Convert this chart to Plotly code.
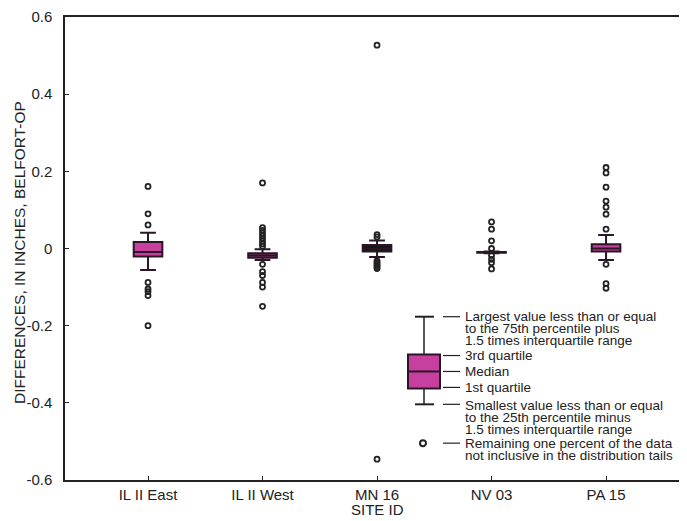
import plotly.graph_objects as go

# ---- data ----
sites = ["IL II East", "IL II West", "MN 16", "NV 03", "PA 15"]
q1 = [-0.021, -0.024, -0.008, -0.011, -0.008]
median = [-0.009, -0.018, 0.000, -0.010, 0.000]
q3 = [0.017, -0.012, 0.009, -0.009, 0.011]
lowerfence = [-0.056, -0.030, -0.022, -0.012, -0.030]
upperfence = [0.041, -0.002, 0.021, -0.008, 0.035]

outliers_il_east = [0.161, 0.090, 0.061, -0.088, -0.105, -0.112, -0.122, -0.200]
outliers_il_west = [0.170, 0.054, 0.047, 0.040, 0.033, 0.026, 0.019, 0.012, 0.006,
                    -0.041, -0.060, -0.070, -0.088, -0.100, -0.150]
outliers_mn16 = [0.527, 0.036, 0.030, -0.032, -0.036, -0.040, -0.044, -0.048, -0.052, -0.546]
outliers_nv03 = [0.069, 0.050, 0.020, 0.000, -0.018, -0.028, -0.037, -0.053]
outliers_pa15 = [0.210, 0.196, 0.159, 0.123, 0.107, 0.089, 0.050, -0.041, -0.091, -0.103]
outliers = [outliers_il_east, outliers_il_west, outliers_mn16, outliers_nv03, outliers_pa15]

fills = ["#C8409F", "#C8409F", "#151515", "#C8409F", "#C8409F"]

# page is offset by the 8px default body margin
OFF = 8
W, H = 687 - OFF, 521 - OFF
PLOT_L, PLOT_R, PLOT_T, PLOT_B = 65, 687, 15, 480   # page pixels of plot area
L = PLOT_L - OFF
T = PLOT_T - OFF
R = 0
B = H - (PLOT_B - OFF)
PW, PH = PLOT_R - PLOT_L, PLOT_B - PLOT_T


def px(xp):
    return (xp - PLOT_L) / PW


def py(yp):
    return (PLOT_B - yp) / PH


fig = go.Figure()
positions = list(range(1, len(sites) + 1))
for i, s in enumerate(sites):
    fig.add_trace(go.Box(
        x=[positions[i]], q1=[q1[i]], median=[median[i]], q3=[q3[i]],
        lowerfence=[lowerfence[i]], upperfence=[upperfence[i]],
        width=0.25, whiskerwidth=0.55, fillcolor=fills[i],
        line=dict(color="#2a1626", width=2), boxpoints=False,
        showlegend=False, hoverinfo="skip"))
    fig.add_trace(go.Scatter(
        x=[positions[i]] * len(outliers[i]), y=outliers[i], mode="markers",
        marker=dict(symbol="circle-open", size=5, color="#222222", line=dict(width=1.8)),
        showlegend=False, hoverinfo="skip"))

yt = [0.6, 0.4, 0.2, 0.0, -0.2, -0.4, -0.6]
fig.update_layout(
    width=W, height=H, margin=dict(l=L, r=R, t=T, b=B),
    paper_bgcolor="white", plot_bgcolor="white",
    font=dict(family="Liberation Sans, Arial, sans-serif", size=15, color="#222222"),
    xaxis=dict(range=[0.275, 5.707], tickvals=positions, ticktext=sites,
               ticks="inside", ticklen=4, tickcolor="#222", showline=True,
               linecolor="#222", linewidth=1.5, mirror=True, showgrid=False,
               zeroline=False, tickfont=dict(size=15), ticklabeloverflow="allow"),
    yaxis=dict(range=[-0.6001, 0.6001], tickvals=yt,
               ticktext=["0.6", "0.4", "0.2", "0", "-0.2", "-0.4", "-0.6"],
               ticks="inside", ticklen=4, tickcolor="#222", showline=True,
               linecolor="#222", linewidth=1.5, showgrid=False, zeroline=False,
               tickfont=dict(size=15), ticklabeloverflow="allow",
               ticklabelstandoff=8),
)

ann = []
ann.append(dict(text="DIFFERENCES, IN INCHES, BELFORT-OP", x=px(20), y=py(252),
                xref="paper", yref="paper", textangle=-90, showarrow=False,
                font=dict(size=15.5), xanchor="center", yanchor="middle"))
ann.append(dict(text="SITE ID", x=px(377), y=py(510), xref="paper", yref="paper",
                showarrow=False, font=dict(size=15), xanchor="center", yanchor="middle"))

legend_lines = [
    ("Largest value less than or equal", 316),
    ("to the 75th percentile plus", 328),
    ("1.5 times interquartile range", 340),
    ("3rd quartile", 355),
    ("Median", 371),
    ("1st quartile", 387),
    ("Smallest value less than or equal", 405),
    ("to the 25th percentile minus", 417),
    ("1.5 times interquartile range", 429),
    ("Remaining one percent of the data", 443),
    ("not inclusive in the distribution tails", 455),
]
for t, yy in legend_lines:
    ann.append(dict(text=t, x=px(463), y=py(yy), xref="paper", yref="paper",
                    showarrow=False, font=dict(size=13.5), xanchor="left",
                    yanchor="middle"))
fig.update_layout(annotations=ann)

shapes = []
dark = "#2a1626"


def line(x0, y0, x1, y1, w=1.5, c="#222"):
    shapes.append(dict(type="line", xref="paper", yref="paper",
                       x0=px(x0), y0=py(y0), x1=px(x1), y1=py(y1),
                       line=dict(color=c, width=w)))


line(424, 316, 424, 404, 1.5)
line(415, 316, 434, 316, 2)
line(415, 404, 434, 404, 2)
shapes.append(dict(type="rect", xref="paper", yref="paper",
                   x0=px(408), x1=px(440), y0=py(354), y1=py(388),
                   fillcolor="#C8409F", line=dict(color=dark, width=2)))
line(408, 371, 440, 371, 2, dark)
for yy in [316, 355, 371, 387, 404, 443]:
    line(443, yy, 460, yy, 1.2)
shapes.append(dict(type="circle", xref="paper", yref="paper",
                   x0=px(420), x1=px(426), y0=py(440), y1=py(446),
                   line=dict(color="#222", width=2)))
fig.update_layout(shapes=shapes)

fig.write_html("out.html")
